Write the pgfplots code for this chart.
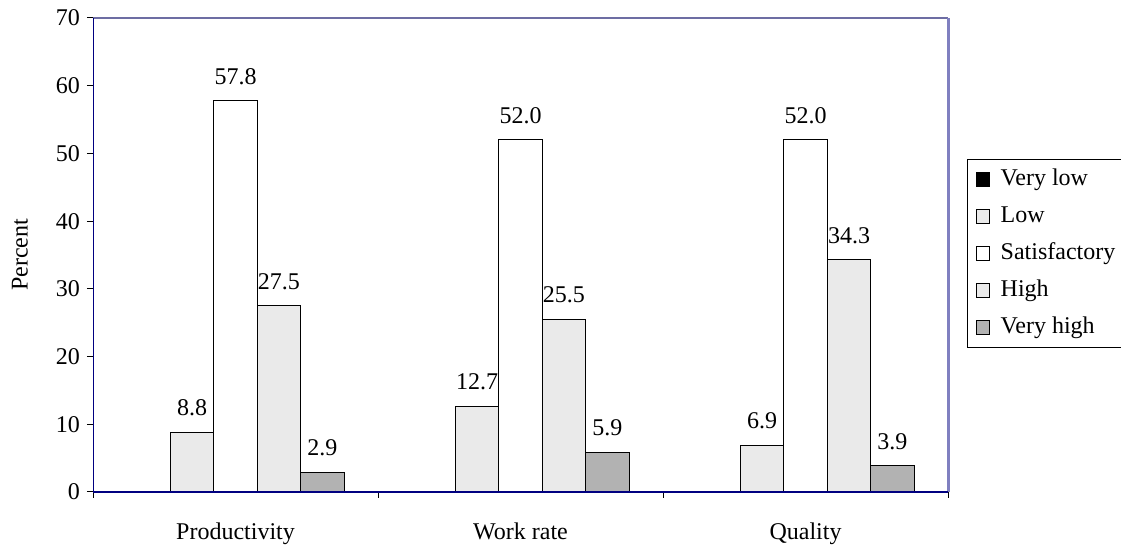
\documentclass[border=0pt]{standalone}
\usepackage{pgfplots}
\pgfplotsset{compat=1.18}
\usepackage{fontspec}
\setmainfont{Liberation Serif}
\definecolor{lightbar}{RGB}{234,234,234}
\definecolor{darkbar}{RGB}{178,178,178}
\definecolor{frameblue}{RGB}{128,128,192}
\definecolor{axisnavy}{RGB}{0,0,128}
\begin{document}
\begin{tikzpicture}
\begin{axis}[
  scale only axis, width=427.5pt, height=237pt,
  clip=false,
  ybar=0pt, bar width=0.1526,
  xmin=-0.5, xmax=2.5, ymin=0, ymax=70,
  ytick={0,10,...,70},
  xtick={0,1,2}, xticklabels={Productivity,Work rate,Quality},
  minor xtick={-0.5,0.5,1.5,2.5},
  tick align=outside, tick pos=left,
  major tick length=3pt, minor tick length=3pt,
  tick style={black, line width=0.5pt},
  major x tick style={draw=none},
  axis line style={draw=none},
  font=\fontsize{12}{14}\selectfont,
  /pgf/number format/assume math mode=true,
  xticklabel style={yshift=-9pt},
  ylabel={Percent},
  ylabel style={at={(axis description cs:0,0.5)}, anchor=center, yshift=36.5pt},
  every node near coord/.append style={font=\fontsize{12}{14}\selectfont, yshift=4.5pt,
    /pgf/number format/.cd, fixed, fixed zerofill, precision=1},
  legend image code/.code={\draw[#1, draw=black, line width=0.5pt] (0pt,-3.3pt) rectangle (6.6pt,3.3pt);},
  legend cell align=left,
  legend style={at={(1,1)}, anchor=north west, xshift=9.5pt, yshift=-70.5pt,
    draw=black, line width=0.5pt, font=\fontsize{12}{14}\selectfont,
    inner xsep=4pt, inner ysep=4pt, row sep=6.5pt, column sep=5.5pt,
    nodes={inner sep=0pt, text height=9pt, text depth=3pt}},
]
\addplot[fill=black, draw=none] coordinates {(0,0) (1,0) (2,0)};
\addlegendentry{Very low}
\addplot[fill=lightbar, draw=black, line width=0.5pt, nodes near coords] coordinates {(0,8.8) (1,12.7) (2,6.9)};
\addlegendentry{Low}
\addplot[fill=white, draw=black, line width=0.5pt, nodes near coords] coordinates {(0,57.8) (1,52.0) (2,52.0)};
\addlegendentry{Satisfactory}
\addplot[fill=lightbar, draw=black, line width=0.5pt, nodes near coords] coordinates {(0,27.5) (1,25.5) (2,34.3)};
\addlegendentry{High}
\addplot[fill=darkbar, draw=black, line width=0.5pt, nodes near coords] coordinates {(0,2.9) (1,5.9) (2,3.9)};
\addlegendentry{Very high}
\draw[frameblue!85!black, line width=1pt] (rel axis cs:0,1) -- (rel axis cs:1,1);
\draw[frameblue, line width=1.5pt] (rel axis cs:1,1) -- (rel axis cs:1,0);
\draw[axisnavy, line width=0.5pt] (rel axis cs:0,0) -- (rel axis cs:0,1);
\draw[axisnavy, line width=1pt] (rel axis cs:0,0) -- (rel axis cs:1,0);
\end{axis}
\pgfresetboundingbox
\path[use as bounding box] ([shift={(-46.5pt,-28.5pt)}]current axis.south west)
  rectangle ([shift={(86.5pt,9pt)}]current axis.north east);
\end{tikzpicture}
\end{document}
